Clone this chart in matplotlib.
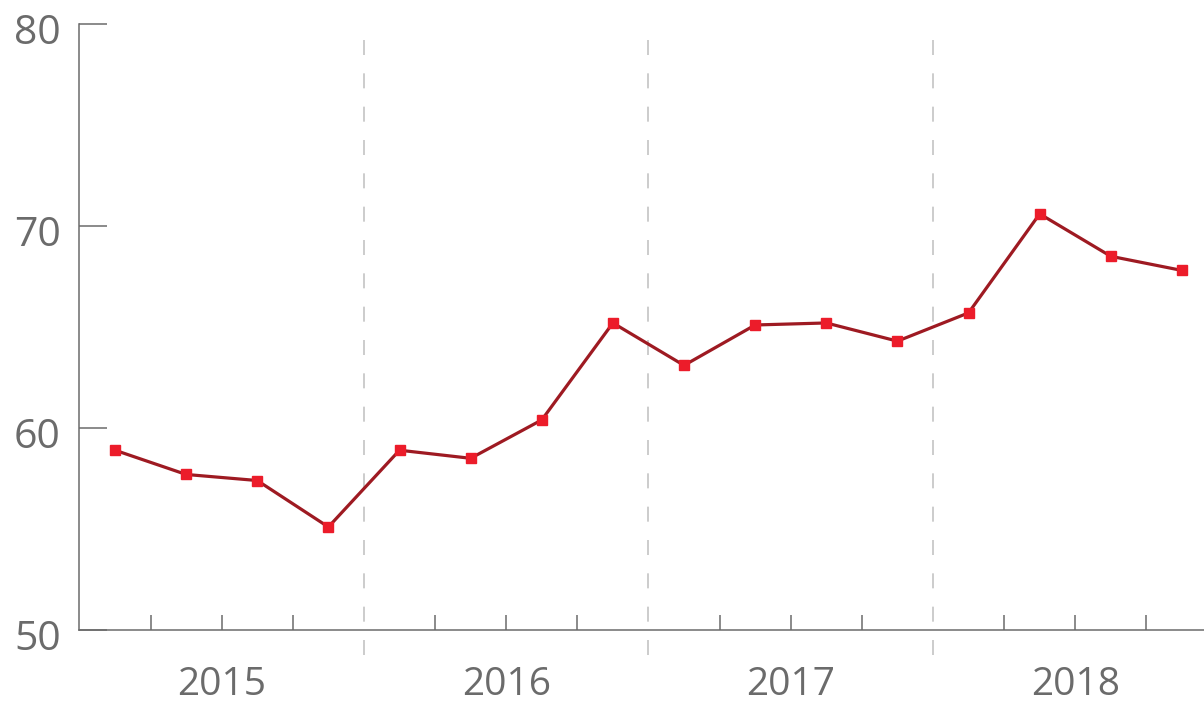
import numpy as np
import matplotlib
matplotlib.use("Agg")
import matplotlib.pyplot as plt
import matplotlib.transforms as mtransforms

plt.rcParams["font.family"] = ["Open Sans", "DejaVu Sans"]

years = ["2015", "2016", "2017", "2018"]
values = [58.9, 57.7, 57.4, 55.1,
          58.9, 58.5, 60.4, 65.2,
          63.1, 65.1, 65.2, 64.3,
          65.7, 70.6, 68.5, 67.8]

x = np.arange(len(values))
gray = "#6b6b6b"

fig = plt.figure(figsize=(12.04, 7.04), dpi=100)
ax = fig.add_axes([79 / 1204, 1 - 630 / 704, 1 - 79 / 1204, 606 / 704])

# year dividers
for b in [3.5, 7.5, 11.5]:
    ax.axvline(b, ymin=-0.042, ymax=0.99, color="#c4c4c4", lw=1.2,
               dashes=(9, 11), clip_on=False, zorder=1)

ax.plot(x, values, color="#9e1a22", lw=2.3, marker="s", markersize=6.5,
        markerfacecolor="#ec1c2a", markeredgecolor="#ec1c2a", zorder=3)

ax.set_xlim(-0.506, 15.31)
ax.set_ylim(50, 80)

ax.set_yticks([50, 60, 70, 80])
ax.tick_params(axis="y", direction="in", length=20, width=1.1, color=gray,
               labelsize=29.5, labelcolor=gray, pad=13)
shift = mtransforms.ScaledTranslation(0, -5 / 100, fig.dpi_scale_trans)
for lab in ax.get_yticklabels():
    lab.set_transform(lab.get_transform() + shift)

minor = [q + 0.5 for q in range(15) if (q + 1) % 4 != 0]
ax.set_xticks(minor)
ax.set_xticklabels([])
ax.tick_params(axis="x", direction="in", length=11, width=1.1, color=gray)

for i, yr in enumerate(years):
    ax.text(4 * i + 1.5, -0.091, yr, transform=ax.get_xaxis_transform(),
            ha="center", va="center", fontsize=28, color=gray)

for s in ["top", "right"]:
    ax.spines[s].set_visible(False)
for s in ["left", "bottom"]:
    ax.spines[s].set_color(gray)
    ax.spines[s].set_linewidth(1.1)

fig.savefig("out.png", dpi=100)
